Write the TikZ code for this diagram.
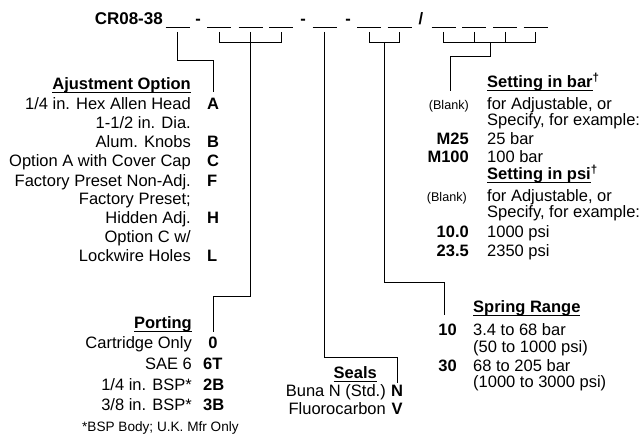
\documentclass[tikz,border=0pt]{standalone}
\usepackage{fontspec}
\setmainfont{Liberation Sans}
\newcommand{\headul}[1]{\setbox0\hbox{#1}\rlap{\rule[-2.6pt]{\wd0}{0.9pt}}\box0}

\begin{document}
\begin{tikzpicture}[x=1pt,y=-1pt,
    item/.style={inner sep=0pt, font=\fontsize{16.5}{18}\selectfont},
    code/.style={inner sep=0pt, font=\fontsize{16.5}{18}\selectfont\bfseries},
    head/.style={inner sep=0pt, font=\fontsize{16.5}{18}\selectfont\bfseries},
    small/.style={inner sep=0pt, font=\fontsize{12.6}{14}\selectfont},
    lead/.style={line width=1pt},
    blank/.style={line width=1.2pt}]
        \useasboundingbox (0,0) rectangle (643,435);

        % part number
        \node[inner sep=0pt, font=\fontsize{17}{18}\selectfont\bfseries, anchor=base east] (title) at (163,25) {CR08-38};
        \node[code, anchor=base] (dashA) at (198,25) {-};
        \node[code, anchor=base] (dashB) at (303,25) {-};
        \node[code, anchor=base] (dashC) at (348,25) {-};
        \node[code, anchor=base] (slash) at (421,25) {/};
        \foreach \n/\x in {1/177.5, 2/219, 3/250.5, 4/281, 5/324.5, 6/369, 7/399.5,
                           8/443.5, 9/474, 10/505, 11/535.5} {
            \draw[blank] (\x-12,27.5) -- (\x+12,27.5);
            \coordinate (b\n) at (\x,32);
        }
        \coordinate (mid67) at (384.5,43);
        \coordinate (mid811) at (490,43);

        % adjustment option
        \node[head, anchor=base east] (adjHead) at (191,90) {\headul{Ajustment Option}};
        \node[item, anchor=base east] (adj1) at (191,110) {1/4 in. Hex Allen Head};
        \node[item, anchor=base east] (adj2) at (191,129) {1-1/2 in. Dia.};
        \node[item, anchor=base east] (adj3) at (191,147.5) {Alum. Knobs};
        \node[item, anchor=base east] (adj4) at (191,167) {Option A with Cover Cap};
        \node[item, anchor=base east] (adj5) at (191,186.5) {Factory Preset Non-Adj.};
        \node[item, anchor=base east] (adj6) at (191,205) {Factory Preset;};
        \node[item, anchor=base east] (adj7) at (191,223.5) {Hidden Adj.};
        \node[item, anchor=base east] (adj8) at (191,243) {Option C w/};
        \node[item, anchor=base east] (adj9) at (191,261.5) {Lockwire Holes};
        \node[code, anchor=base west] (adjA) at (207,110) {A};
        \node[code, anchor=base west] (adjB) at (207,147.5) {B};
        \node[code, anchor=base west] (adjC) at (207,167) {C};
        \node[code, anchor=base west] (adjF) at (207,186.5) {F};
        \node[code, anchor=base west] (adjH) at (207,223.5) {H};
        \node[code, anchor=base west] (adjL) at (207,261.5) {L};

        % porting
        \node[head, anchor=base east] (portHead) at (192,329) {\headul{Porting}};
        \node[item, anchor=base east] (port1) at (192,349) {Cartridge Only};
        \node[item, anchor=base east] (port2) at (192,370) {SAE 6};
        \node[item, anchor=base east] (port3) at (192,391) {1/4 in. BSP*};
        \node[item, anchor=base east] (port4) at (192,411) {3/8 in. BSP*};
        \node[code, anchor=base] (port0) at (213,349) {0};
        \node[code, anchor=base west] (port6T) at (203,370) {6T};
        \node[code, anchor=base west] (port2B) at (203,391) {2B};
        \node[code, anchor=base west] (port3B) at (203,411) {3B};
        \node[inner sep=0pt, font=\fontsize{13.6}{15}\selectfont, anchor=base west] (portNote) at (82,432) {*BSP Body; U.K. Mfr Only};

        % seals
        \node[head, anchor=base east] (sealHead) at (377,379) {\headul{Seals}};
        \node[item, anchor=base east] (seal1) at (386,397) {Buna N (Std.)};
        \node[item, anchor=base east] (seal2) at (386,415) {Fluorocarbon};
        \node[code, anchor=base] (sealN) at (397,397) {N};
        \node[code, anchor=base] (sealV) at (397,415) {V};

        % spring range
        \node[head, anchor=base west] (sprHead) at (473,313) {\headul{Spring Range}};
        \node[item, anchor=base west] (spr1) at (473,336) {3.4 to 68 bar};
        \node[item, anchor=base west] (spr2) at (473,353) {(50 to 1000 psi)};
        \node[item, anchor=base west] (spr3) at (473,372) {68 to 205 bar};
        \node[item, anchor=base west] (spr4) at (473,388) {(1000 to 3000 psi)};
        \node[code, anchor=base east] (spr10) at (457,336) {10};
        \node[code, anchor=base east] (spr30) at (457,372) {30};

        % setting
        \node[head, anchor=base west] (barHead) at (487,88) {\headul{Setting in bar}\textsuperscript{†}};
        \node[item, anchor=base west] (bar1) at (487,110) {for Adjustable, or};
        \node[item, anchor=base west] (bar2) at (487,126) {Specify, for example:};
        \node[item, anchor=base west] (bar3) at (487,145) {25 bar};
        \node[item, anchor=base west] (bar4) at (487,163) {100 bar};
        \node[small, anchor=base east] (barBlank) at (469,110) {(Blank)};
        \node[code, anchor=base east] (barM25) at (469,145) {M25};
        \node[code, anchor=base east] (barM100) at (469,163) {M100};
        \node[head, anchor=base west] (psiHead) at (487,180) {\headul{Setting in psi}\textsuperscript{†}};
        \node[item, anchor=base west] (psi1) at (487,202) {for Adjustable, or};
        \node[item, anchor=base west] (psi2) at (487,218) {Specify, for example:};
        \node[item, anchor=base west] (psi3) at (487,238) {1000 psi};
        \node[item, anchor=base west] (psi4) at (487,257) {2350 psi};
        \node[small, anchor=base east] (psiBlank) at (467,202) {(Blank)};
        \node[code, anchor=base east] (psi10) at (469,238) {10.0};
        \node[code, anchor=base east] (psi23) at (469,257) {23.5};

        % leaders
        \draw[lead] (b1) -- ++(0,29) -| ([yshift=6pt]adjA.north);
        \draw[lead] (b2) -- ++(0,11) -| (b4);
        \draw[lead] (b3) -- ++(0,265) -| ([yshift=5pt]port0.north);
        \draw[lead] (b5) -- ++(0,326) -| ([yshift=2pt]sealN.north);
        \draw[lead] (b6) -- ++(0,11) -| (b7);
        \draw[lead] (mid67) -- ++(0,240) -| ([xshift=-3pt,yshift=9pt]spr10.north);
        \draw[lead] (b8) -- ++(0,11) -| (b11);
        \draw[lead] (b9) -- ++(0,11);
        \draw[lead] (b10) -- ++(0,11);
        \draw[lead] (mid811) -- ++(0,14) -| ([xshift=2pt,yshift=10pt]barBlank.north);

    \end{tikzpicture}
\end{document}
